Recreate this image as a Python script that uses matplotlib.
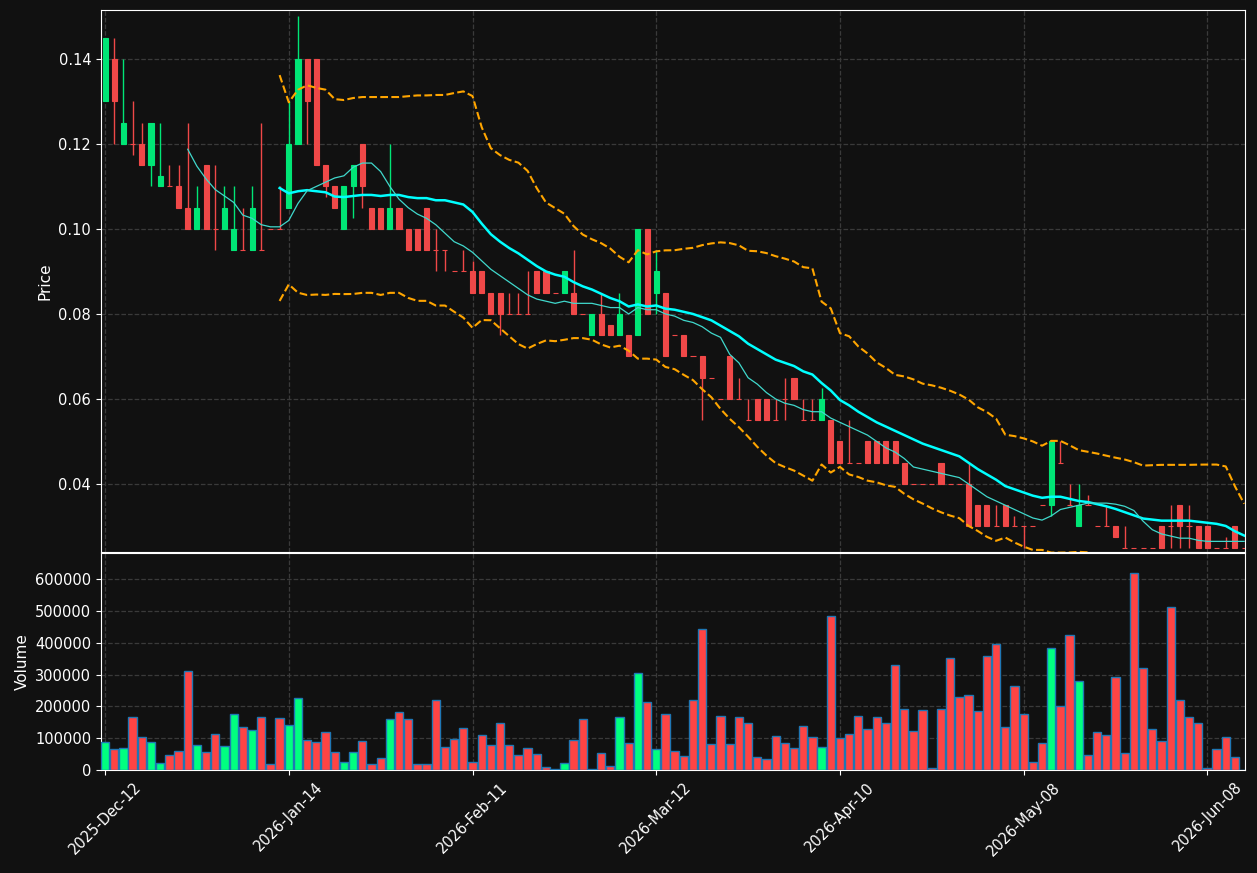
import numpy as np
import pandas as pd
import matplotlib
matplotlib.use('Agg')
import matplotlib.pyplot as plt

# OHLC + volume, one value per session
opens = [0.13, 0.14, 0.12, 0.12, 0.12, 0.115, 0.11, 0.11, 0.11, 0.105,
         0.10, 0.115, 0.10, 0.10, 0.095, 0.095, 0.095, 0.095, 0.10, 0.10,
         0.105, 0.12, 0.14, 0.14, 0.115, 0.11, 0.10, 0.11, 0.12, 0.105,
         0.105, 0.10, 0.105, 0.10, 0.10, 0.105, 0.095, 0.095, 0.09, 0.09,
         0.09, 0.09, 0.085, 0.085, 0.08, 0.08, 0.08, 0.09, 0.09, 0.085,
         0.085, 0.085, 0.08, 0.075, 0.08, 0.0775, 0.075, 0.075, 0.075, 0.10,
         0.085, 0.085, 0.075, 0.075, 0.07, 0.07, 0.065, 0.06, 0.07, 0.06,
         0.055, 0.06, 0.06, 0.055, 0.06, 0.065, 0.055, 0.055, 0.055, 0.055,
         0.05, 0.045, 0.045, 0.05, 0.05, 0.05, 0.05, 0.045, 0.04, 0.04,
         0.04, 0.045, 0.04, 0.04, 0.04, 0.035, 0.035, 0.03, 0.035, 0.03,
         0.03, 0.03, 0.035, 0.035, 0.045, 0.035, 0.03, 0.035, 0.03, 0.03,
         0.03, 0.025, 0.025, 0.025, 0.025, 0.03, 0.03, 0.035, 0.03, 0.03,
         0.03, 0.025, 0.025, 0.03, 0.025]
highs = [0.145, 0.145, 0.14, 0.13, 0.125, 0.125, 0.125, 0.115, 0.115, 0.125,
         0.11, 0.115, 0.115, 0.11, 0.11, 0.105, 0.11, 0.125, 0.10, 0.11,
         0.13, 0.15, 0.14, 0.14, 0.115, 0.11, 0.11, 0.115, 0.12, 0.105,
         0.105, 0.12, 0.105, 0.10, 0.10, 0.105, 0.10, 0.095, 0.09, 0.095,
         0.0925, 0.09, 0.085, 0.085, 0.085, 0.085, 0.09, 0.09, 0.09, 0.085,
         0.09, 0.095, 0.08, 0.08, 0.085, 0.0775, 0.085, 0.075, 0.10, 0.10,
         0.095, 0.085, 0.075, 0.075, 0.07, 0.07, 0.065, 0.06, 0.07, 0.065,
         0.06, 0.06, 0.06, 0.06, 0.065, 0.065, 0.06, 0.06, 0.0625, 0.055,
         0.05, 0.055, 0.045, 0.05, 0.05, 0.05, 0.05, 0.045, 0.04, 0.04,
         0.04, 0.045, 0.04, 0.04, 0.045, 0.035, 0.035, 0.035, 0.035, 0.0325,
         0.03, 0.03, 0.035, 0.05, 0.05, 0.04, 0.04, 0.0375, 0.03, 0.035,
         0.03, 0.03, 0.025, 0.025, 0.025, 0.03, 0.035, 0.035, 0.035, 0.03,
         0.03, 0.025, 0.0275, 0.03, 0.025]
lows = [0.13, 0.12, 0.12, 0.1175, 0.115, 0.11, 0.11, 0.11, 0.105, 0.10,
        0.10, 0.10, 0.095, 0.10, 0.095, 0.095, 0.095, 0.095, 0.10, 0.10,
        0.105, 0.12, 0.12, 0.115, 0.1075, 0.105, 0.10, 0.1025, 0.105, 0.10,
        0.10, 0.10, 0.10, 0.095, 0.095, 0.095, 0.09, 0.09, 0.09, 0.09,
        0.085, 0.085, 0.08, 0.075, 0.08, 0.08, 0.08, 0.085, 0.085, 0.085,
        0.085, 0.08, 0.08, 0.075, 0.075, 0.075, 0.075, 0.07, 0.075, 0.08,
        0.08, 0.07, 0.075, 0.07, 0.07, 0.055, 0.065, 0.06, 0.06, 0.06,
        0.055, 0.055, 0.055, 0.055, 0.055, 0.06, 0.055, 0.055, 0.055, 0.045,
        0.045, 0.045, 0.045, 0.045, 0.045, 0.045, 0.045, 0.04, 0.04, 0.04,
        0.04, 0.04, 0.04, 0.04, 0.03, 0.03, 0.03, 0.03, 0.03, 0.03,
        0.025, 0.03, 0.035, 0.0325, 0.045, 0.035, 0.03, 0.035, 0.03, 0.03,
        0.0275, 0.025, 0.025, 0.025, 0.025, 0.025, 0.025, 0.025, 0.025, 0.025,
        0.025, 0.025, 0.025, 0.025, 0.025]
closes = [0.145, 0.13, 0.125, 0.12, 0.115, 0.125, 0.1125, 0.11, 0.105, 0.10,
          0.105, 0.10, 0.10, 0.105, 0.10, 0.095, 0.105, 0.095, 0.10, 0.10,
          0.12, 0.14, 0.13, 0.115, 0.11, 0.105, 0.11, 0.115, 0.11, 0.10,
          0.10, 0.105, 0.10, 0.095, 0.095, 0.095, 0.095, 0.095, 0.09, 0.09,
          0.085, 0.085, 0.08, 0.08, 0.08, 0.08, 0.08, 0.085, 0.085, 0.085,
          0.09, 0.08, 0.08, 0.08, 0.075, 0.075, 0.08, 0.07, 0.10, 0.08,
          0.09, 0.07, 0.075, 0.07, 0.07, 0.065, 0.065, 0.06, 0.06, 0.06,
          0.055, 0.055, 0.055, 0.055, 0.06, 0.06, 0.055, 0.055, 0.06, 0.045,
          0.045, 0.045, 0.045, 0.045, 0.045, 0.045, 0.045, 0.04, 0.04, 0.04,
          0.04, 0.04, 0.04, 0.04, 0.03, 0.03, 0.03, 0.03, 0.03, 0.03,
          0.03, 0.03, 0.035, 0.05, 0.045, 0.035, 0.035, 0.035, 0.03, 0.03,
          0.0275, 0.025, 0.025, 0.025, 0.025, 0.025, 0.03, 0.03, 0.03, 0.025,
          0.025, 0.025, 0.025, 0.025, 0.025]
volumes = [89000, 65000, 68000, 166000, 103000, 89000, 23000, 46000, 59000, 312000,
           80000, 56000, 113000, 74000, 175000, 135000, 125000, 166000, 18000, 163000,
           143000, 226000, 94000, 89000, 119000, 56000, 26000, 56000, 91000, 18000,
           37000, 160000, 182000, 160000, 20000, 20000, 220000, 72000, 98000, 132000,
           24000, 109000, 78000, 147000, 78000, 46000, 68000, 49000, 8000, 2000,
           21000, 94000, 160000, 2000, 53000, 12000, 166000, 84000, 305000, 214000,
           65000, 176000, 59000, 43000, 220000, 444000, 81000, 169000, 81000, 166000,
           147000, 40000, 34000, 106000, 84000, 68000, 138000, 103000, 72000, 485000,
           100000, 113000, 169000, 128000, 166000, 147000, 331000, 192000, 122000, 188000,
           5000, 192000, 353000, 229000, 236000, 185000, 359000, 397000, 135000, 264000,
           176000, 26000, 84000, 384000, 201000, 425000, 280000, 46000, 119000, 109000,
           293000, 53000, 621000, 321000, 128000, 91000, 514000, 220000, 166000, 147000,
           5000, 65000, 103000, 40000, 0]
tick_pos = [0, 20, 40, 60, 80, 100, 120]
tick_labels = ['2025-Dec-12', '2026-Jan-14', '2026-Feb-11', '2026-Mar-12',
               '2026-Apr-10', '2026-May-08', '2026-Jun-08']

df = pd.DataFrame({'open': opens, 'high': highs, 'low': lows,
                   'close': closes, 'volume': volumes})
df['ma10'] = df['close'].rolling(10).mean()
df['ma20'] = df['close'].rolling(20).mean()
std20 = df['close'].rolling(20).std()
df['bb_up'] = df['ma20'] + 2 * std20
df['bb_lo'] = df['ma20'] - 2 * std20

bg = '#111111'
up_col = '#00e676'
down_col = '#f04848'
x = np.arange(len(df))
up = df['close'] > df['open']
colors = np.where(up, up_col, down_col)

fig = plt.figure(figsize=(12.57, 8.73), dpi=100, facecolor=bg)
ax1 = fig.add_axes([0.0803, 0.3677, 0.9102, 0.6208])
ax2 = fig.add_axes([0.0803, 0.118, 0.9102, 0.2486], sharex=ax1)

# candles
ax1.vlines(x, df['low'], df['high'], color=colors, linewidth=1, zorder=2)
body_lo = np.minimum(df['open'], df['close'])
body_h = (df['close'] - df['open']).abs()
ax1.bar(x, body_h, bottom=body_lo, width=0.55, color=colors,
        edgecolor=colors, linewidth=0.8, zorder=3)

ax1.plot(x, df['ma20'], color='#00ffff', linewidth=1.8, zorder=4)
ax1.plot(x, df['ma10'], color='#40d8cc', linewidth=0.9, zorder=4)
ax1.plot(x, df['bb_up'], color='#ffa500', linestyle='--', linewidth=1.5, zorder=4)
ax1.plot(x, df['bb_lo'], color='#ffa500', linestyle='--', linewidth=1.5, zorder=4)

ax1.set_ylim(df['low'].min() * 0.96, df['high'].max() * 1.01)
ax1.set_yticks([0.04, 0.06, 0.08, 0.10, 0.12, 0.14])
ax1.set_ylabel('Price', color='white', fontsize=11)

# volume
vcolors = np.where(up, '#00ff80', '#ff4444')
ax2.bar(x, df['volume'], width=0.9, color=vcolors, edgecolor='#1f77b4',
        linewidth=1, zorder=3)
ax2.set_ylim(0, df['volume'].max() * 1.1)
ax2.set_yticks([0, 100000, 200000, 300000, 400000, 500000, 600000])
ax2.set_yticklabels(['0', '100000', '200000', '300000', '400000', '500000', '600000'])
ax2.set_ylabel('Volume', color='white', fontsize=11)

ax2.set_xlim(-0.45, 124.1)
ax2.set_xticks(tick_pos)
ax2.set_xticklabels(tick_labels, rotation=45)
ax1.tick_params(labelbottom=False)

for ax in (ax1, ax2):
    ax.set_facecolor(bg)
    ax.grid(True, color='#3a3a3a', linestyle='--', linewidth=0.9)
    ax.set_axisbelow(True)
    ax.tick_params(colors='white', labelsize=10.5)
    for s in ax.spines.values():
        s.set_color('white')

fig.savefig('out.png', dpi=100, facecolor=bg)
